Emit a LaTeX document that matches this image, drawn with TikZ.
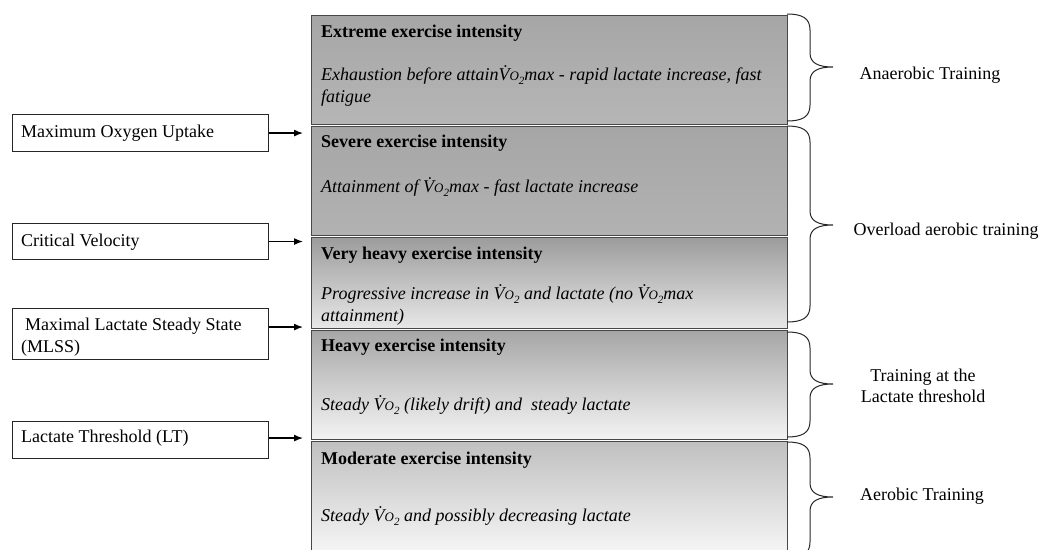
\documentclass[tikz,border=0pt]{standalone}
\usepackage{fontspec}
\setmainfont{Liberation Serif}
\usetikzlibrary{arrows.meta}
\newcommand\fs{\fontsize{18}{21.5}\selectfont}
\newcommand\VO{\.V{\fontsize{13}{13}\selectfont O\raisebox{-4pt}{\fontsize{11}{11}\selectfont 2}}}
\definecolor{zAt}{RGB}{166,166,166}\definecolor{zAb}{RGB}{182,182,182}
\definecolor{zBt}{RGB}{166,166,166}\definecolor{zBb}{RGB}{178,178,178}
\definecolor{zCt}{RGB}{156,156,156}\definecolor{zCb}{RGB}{232,232,232}
\definecolor{zDt}{RGB}{166,166,166}\definecolor{zDb}{RGB}{244,244,244}
\definecolor{zEt}{RGB}{192,192,192}\definecolor{zEb}{RGB}{255,255,255}
\newcommand\mybrace[3]{%
  \draw[brc] (787,#1) .. controls (802,#1) and (810,#1+4) .. (810,#1+16)
    -- (810,#3-14) .. controls (810,#3-4) and (818,#3) .. (833,#3)
    .. controls (818,#3) and (810,#3+4) .. (810,#3+14)
    -- (810,#2-16) .. controls (810,#2-4) and (802,#2) .. (787,#2);}
\tikzset{
  lbl/.style={draw=black!85, line width=1.1pt, minimum width=256pt, anchor=north west, inner sep=0pt},
  zone/.style={draw=black!72, line width=1.4pt, minimum width=476pt, anchor=north west, inner sep=0pt},
  head/.style={anchor=base west, inner sep=0pt, font=\fs\bfseries},
  desc/.style={anchor=base west, inner sep=0pt, font=\fs\itshape},
  ltxt/.style={anchor=base west, inner sep=0pt, font=\fs},
  rtxt/.style={anchor=base, inner sep=0pt, font=\fs},
  arr/.style={-{Latex[length=9pt,width=7pt]}, line width=1.3pt, shorten >=8pt},
  brc/.style={line width=1pt, draw=black!85}
}
\begin{document}
\begin{tikzpicture}[x=1pt,y=-1pt]
\clip (0,0) rectangle (1040,549);
% central zones
\node[zone, minimum height=109pt, top color=zAt, bottom color=zAb] (z1) at (311,15) {};
\node[zone, minimum height=109pt, top color=zBt, bottom color=zBb] (z2) at (311,126) {};
\node[zone, minimum height=91pt, top color=zCt, bottom color=zCb] (z3) at (311,237) {};
\node[zone, minimum height=109pt, top color=zDt, bottom color=zDb] (z4) at (311,330) {};
\node[zone, minimum height=130pt, top color=zEt, bottom color=zEb] (z5) at (311,441) {};
% zone texts
\node[head] (h1) at (321,37) {Extreme exercise intensity};
\node[desc] (d1a) at (321,80) {Exhaustion before attain\VO max - rapid lactate increase, fast};
\node[desc] (d1b) at (321,102) {fatigue};
\node[head] (h2) at (321,147) {Severe exercise intensity};
\node[desc] (d2) at (321,192) {Attainment of \VO max - fast lactate increase};
\node[head] (h3) at (321,259) {Very heavy exercise intensity};
\node[desc] (d3a) at (321,299) {Progressive increase in \VO\ and lactate (no \VO max};
\node[desc] (d3b) at (321,321) {attainment)};
\node[head] (h4) at (321,351) {Heavy exercise intensity};
\node[desc] (d4) at (321,410) {Steady \VO\ (likely drift) and\ \ steady lactate};
\node[head] (h5) at (321,464) {Moderate exercise intensity};
\node[desc] (d5) at (321,521) {Steady \VO\ and possibly decreasing lactate};
% left boxes
\node[lbl, minimum height=37pt] (mou) at (12,114) {};
\node[ltxt] (moutx) at (21,137) {Maximum Oxygen Uptake};
\node[lbl, minimum height=36pt] (cv) at (12,223) {};
\node[ltxt] (cvtx) at (21,246) {Critical Velocity};
\node[lbl, minimum height=51pt] (mlss) at (12,308) {};
\node[ltxt] (mlsstxa) at (25,330) {Maximal Lactate Steady State};
\node[ltxt] (mlsstxb) at (21,352) {(MLSS)};
\node[lbl, minimum height=37pt] (lt) at (12,421) {};
\node[ltxt] (lttx) at (21,442) {Lactate Threshold (LT)};
% arrows
\draw[arr] (mou.east) -- (mou.east -| z2.west);
\draw[arr] (cv.east) -- (cv.east -| z3.west);
\draw[arr] ([yshift=7pt]mlss.east) -- ([yshift=7pt]mlss.east -| z4.west);
\draw[arr] ([yshift=2pt]lt.east) -- ([yshift=2pt]lt.east -| z5.west);
% braces
\mybrace{14}{121}{67}
\mybrace{126}{322}{225}
\mybrace{332}{437}{384}
\mybrace{442}{558}{497}
% right labels
\node[rtxt] (r1) at (930,79) {Anaerobic Training};
\node[rtxt] (r2) at (946,235) {Overload aerobic training};
\node[rtxt] (r3a) at (923,381) {Training at the};
\node[rtxt] (r3b) at (923,402) {Lactate threshold};
\node[rtxt] (r4) at (922,500) {Aerobic Training};
\end{tikzpicture}
\end{document}
